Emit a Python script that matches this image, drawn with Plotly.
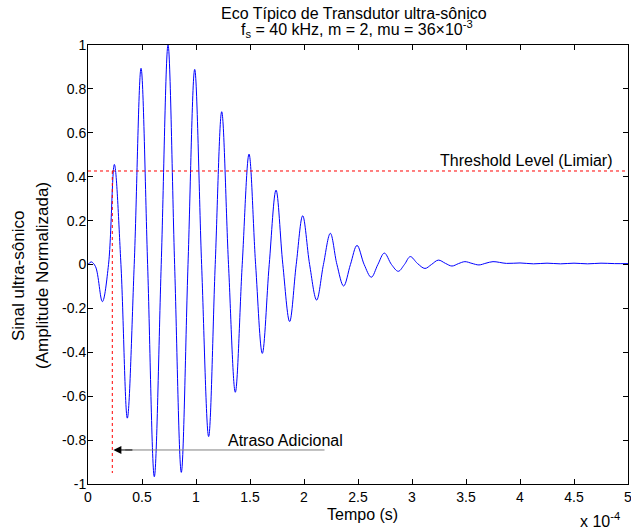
import plotly.graph_objects as go

# time in units of 1e-4 s
time_e4 = [0.00, 0.03, 0.07, 0.133, 0.19, 0.244, 0.305, 0.364, 0.428, 0.491, 0.552, 0.614,
           0.678, 0.741, 0.802, 0.864, 0.926, 0.988, 1.052, 1.117, 1.178, 1.238, 1.301, 1.364,
           1.428, 1.491, 1.552, 1.614, 1.678, 1.741, 1.804, 1.867, 1.928, 1.988, 2.052, 2.117,
           2.18, 2.244, 2.305, 2.367, 2.43, 2.491, 2.557, 2.623, 2.684, 2.744, 2.81, 2.873,
           2.93, 2.984, 3.05, 3.12, 3.18, 3.244, 3.31, 3.37, 3.43, 3.49, 3.555, 3.62, 3.685,
           3.75, 3.875, 4.0, 4.125, 4.25, 4.375, 4.5, 4.625, 4.75, 4.875, 5.0]
amplitude = [0.0, 0.012, -0.01, -0.169, 0.0, 0.456, 0.0, -0.70, 0.0, 0.894, 0.0, -0.967,
             0.0, 1.0, 0.0, -0.947, 0.0, 0.889, 0.0, -0.784, 0.0, 0.696, 0.0, -0.582,
             0.0, 0.503, 0.0, -0.405, 0.0, 0.339, 0.0, -0.26, 0.0, 0.222, 0.0, -0.162,
             0.0, 0.142, 0.0, -0.098, 0.0, 0.087, 0.0, -0.058, 0.0, 0.052, 0.0, -0.031,
             0.0, 0.036, 0.005, -0.018, 0.0, 0.02, 0.005, -0.007, 0.004, 0.013, 0.005, -0.002, 0.006,
             0.013, 0.005, 0.007, 0.003, 0.006, 0.003, 0.006, 0.003, 0.006, 0.004, 0.004]

threshold = 0.426
delay_x = 0.225
delay_bottom = -0.95
arrow_start = 2.19
arrow_y = -0.845

x_ticks = [0, 0.5, 1, 1.5, 2, 2.5, 3, 3.5, 4, 4.5, 5]
x_ticktext = ["0", "0.5", "1", "1.5", "2", "2.5", "3", "3.5", "4", "4.5", "5"]
y_ticks = [-1, -0.8, -0.6, -0.4, -0.2, 0, 0.2, 0.4, 0.6, 0.8, 1]
y_ticktext = ["-1", "-0.8", "-0.6", "-0.4", "-0.2", "0", "0.2", "0.4", "0.6", "0.8", "1"]

FONT = "Liberation Sans, Arial, Helvetica, sans-serif"
W, H = 631, 529
L, R, T, B = 88, 3, 45, 45
PW, PH = W - L - R, H - T - B


def px(page_x):
    return (page_x - L) / PW


def py(page_y):
    return (H - B - page_y) / PH


fig = go.Figure()
fig.add_trace(go.Scatter(x=time_e4, y=amplitude, mode="lines",
                         line=dict(color="#0000ff", width=1, shape="spline", smoothing=1.0),
                         showlegend=False, hoverinfo="skip"))
# threshold
fig.add_trace(go.Scatter(x=[x_ticks[0], x_ticks[-1]], y=[threshold, threshold], mode="lines",
                         line=dict(color="#ff0000", width=1, dash="dot"),
                         showlegend=False, hoverinfo="skip"))
# delay vertical line
fig.add_trace(go.Scatter(x=[delay_x, delay_x], y=[threshold, delay_bottom], mode="lines",
                         line=dict(color="#ff0000", width=1, dash="dot"),
                         showlegend=False, hoverinfo="skip"))
# arrow shaft
fig.add_trace(go.Scatter(x=[arrow_start, delay_x + 0.12], y=[arrow_y, arrow_y], mode="lines",
                         line=dict(color="#808080", width=1),
                         showlegend=False, hoverinfo="skip"))

TXT = dict(color="black", family=FONT)
C = dict(xanchor="center", yanchor="middle", showarrow=False)
annotations = [
    dict(x=delay_x + 0.01, y=arrow_y, ax=delay_x + 0.2, ay=arrow_y, xref="x", yref="y",
         axref="x", ayref="y", showarrow=True, arrowhead=2, arrowsize=1.6, arrowwidth=1,
         arrowcolor="#000000", text=""),
    dict(x=1.829, y=-0.80, xref="x", yref="y", text="Atraso Adicional",
         font=dict(size=16, **TXT), **C),
    dict(x=4.88, y=0.472, xref="x", yref="y", text="Threshold Level (Limiar)", showarrow=False,
         xanchor="right", yanchor="middle", font=dict(size=16, **TXT)),
    dict(x=px(354), y=py(13), xref="paper", yref="paper",
         text="Eco Típico de Transdutor ultra-sônico", font=dict(size=16, **TXT), **C),
    dict(x=px(357), y=py(28.5), xref="paper", yref="paper",
         text="f<sub>s</sub> = 40 kHz, m = 2, mu = 36×10<sup>-3</sup>",
         font=dict(size=16, **TXT), **C),
    dict(x=px(362.5), y=py(514), xref="paper", yref="paper", text="Tempo (s)",
         font=dict(size=16, **TXT), **C),
    dict(x=px(600), y=py(520), xref="paper", yref="paper", text="x 10<sup>-4</sup>",
         font=dict(size=16, **TXT), **C),
    dict(x=px(18), y=py(276), xref="paper", yref="paper", text="Sinal ultra-sônico",
         textangle=-90, font=dict(size=17, **TXT), **C),
    dict(x=px(42), y=py(276), xref="paper", yref="paper", text="(Amplitude Normalizada)",
         textangle=-90, font=dict(size=17, **TXT), **C),
]

axis_common = dict(showgrid=False, zeroline=False, showline=True, linecolor="black", linewidth=1,
                   mirror="ticks", ticks="inside", ticklen=5, tickcolor="black", tickwidth=1,
                   tickfont=dict(size=14, **TXT), ticklabeloverflow="allow")

fig.update_layout(
    width=W, height=H,
    margin=dict(l=L, r=R, t=T, b=B, autoexpand=False),
    paper_bgcolor="white", plot_bgcolor="white",
    xaxis=dict(range=[0, 5], tickvals=x_ticks, ticktext=x_ticktext, ticklabelstandoff=0,
               **axis_common),
    yaxis=dict(range=[-1, 1], tickvals=y_ticks, ticktext=y_ticktext, ticklabelstandoff=-2,
               **axis_common),
    annotations=annotations,
    font=dict(family=FONT, size=14, color="black"),
)

fig.write_html("out.html", config={"displayModeBar": False},
               post_script="document.body.style.margin='0';document.body.style.overflow='hidden';"
                           "document.documentElement.style.overflow='hidden';")
